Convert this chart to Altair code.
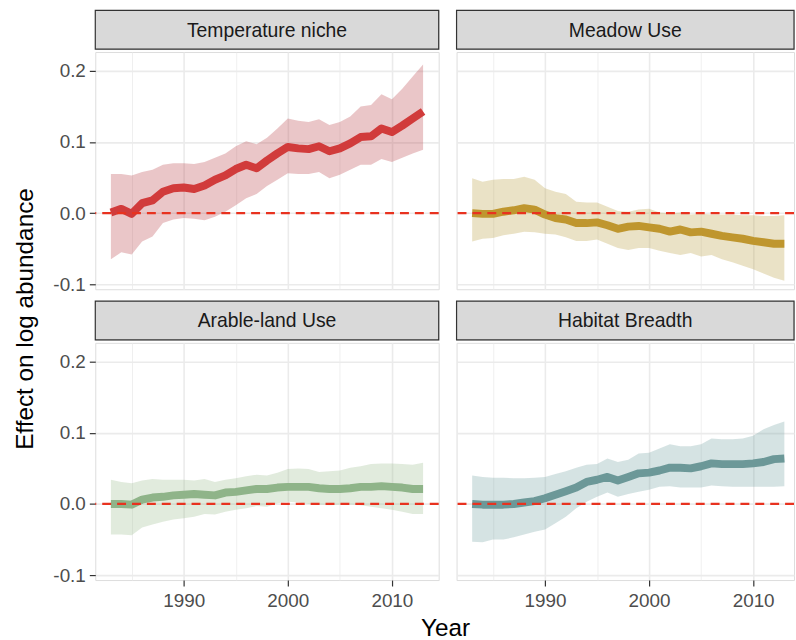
import altair as alt
import pandas as pd

# ---------------- data ----------------
years = list(range(1983, 2014))

panels = ["Temperature niche", "Meadow Use", "Arable-land Use", "Habitat Breadth"]

temp_est = [0.001, 0.006, -0.001, 0.014, 0.018, 0.030, 0.035, 0.036, 0.034, 0.039, 0.047,
            0.053, 0.062, 0.068, 0.063, 0.074, 0.084, 0.093, 0.091, 0.090, 0.094, 0.087,
            0.091, 0.098, 0.107, 0.108, 0.119, 0.114, 0.123, 0.133, 0.143]
temp_hi = [0.055, 0.055, 0.053, 0.058, 0.061, 0.068, 0.070, 0.070, 0.069, 0.072, 0.078,
           0.084, 0.094, 0.101, 0.097, 0.106, 0.119, 0.133, 0.130, 0.128, 0.132, 0.124,
           0.128, 0.136, 0.150, 0.152, 0.167, 0.160, 0.175, 0.192, 0.209]
temp_lo = [-0.065, -0.055, -0.058, -0.040, -0.033, -0.014, -0.009, -0.007, -0.008, -0.010, -0.005,
           0.002, 0.011, 0.021, 0.027, 0.038, 0.047, 0.056, 0.055, 0.055, 0.058, 0.049,
           0.054, 0.061, 0.068, 0.068, 0.076, 0.072, 0.078, 0.084, 0.089]

meadow_est = [0.000, -0.001, -0.001, 0.002, 0.004, 0.007, 0.005, -0.002, -0.007, -0.009, -0.014,
              -0.014, -0.013, -0.017, -0.022, -0.019, -0.018, -0.020, -0.022, -0.026, -0.023, -0.027,
              -0.026, -0.029, -0.032, -0.034, -0.036, -0.039, -0.041, -0.043, -0.043]
meadow_hi = [0.049, 0.044, 0.047, 0.048, 0.048, 0.051, 0.047, 0.035, 0.030, 0.027, 0.016,
             0.015, 0.015, 0.009, 0.003, 0.002, 0.005, 0.006, 0.001, 0.000, 0.001, -0.002,
             -0.001, -0.002, -0.002, -0.002, -0.003, -0.003, -0.004, -0.004, -0.003]
meadow_lo = [-0.040, -0.036, -0.035, -0.031, -0.029, -0.026, -0.027, -0.029, -0.030, -0.034, -0.039,
             -0.039, -0.037, -0.043, -0.049, -0.052, -0.049, -0.049, -0.053, -0.056, -0.059, -0.056,
             -0.061, -0.059, -0.065, -0.069, -0.074, -0.079, -0.085, -0.091, -0.095]

arable_est = [0.000, 0.000, -0.001, 0.006, 0.009, 0.010, 0.012, 0.013, 0.014, 0.013, 0.012,
              0.016, 0.017, 0.019, 0.021, 0.021, 0.023, 0.024, 0.024, 0.024, 0.022, 0.021,
              0.021, 0.022, 0.024, 0.024, 0.025, 0.024, 0.023, 0.021, 0.021]
arable_hi = [0.034, 0.031, 0.029, 0.033, 0.035, 0.034, 0.034, 0.034, 0.033, 0.035, 0.031,
             0.034, 0.036, 0.039, 0.041, 0.040, 0.044, 0.049, 0.050, 0.049, 0.045, 0.046,
             0.047, 0.051, 0.053, 0.056, 0.057, 0.057, 0.056, 0.055, 0.058]
arable_lo = [-0.043, -0.043, -0.044, -0.033, -0.029, -0.025, -0.022, -0.020, -0.018, -0.014, -0.015,
             -0.011, -0.008, -0.006, -0.003, -0.004, 0.001, 0.003, 0.002, 0.000, -0.001, -0.002,
             -0.001, -0.001, -0.002, -0.004, -0.006, -0.008, -0.011, -0.014, -0.014]

habitat_est = [0.000, -0.001, -0.001, -0.001, 0.000, 0.002, 0.004, 0.008, 0.013, 0.018, 0.023,
               0.031, 0.034, 0.038, 0.033, 0.038, 0.043, 0.044, 0.047, 0.051, 0.051, 0.050,
               0.053, 0.057, 0.056, 0.056, 0.056, 0.057, 0.059, 0.063, 0.064]
habitat_hi = [0.040, 0.038, 0.037, 0.037, 0.036, 0.036, 0.037, 0.038, 0.042, 0.046, 0.051,
              0.055, 0.056, 0.064, 0.059, 0.062, 0.071, 0.072, 0.078, 0.084, 0.081, 0.081,
              0.084, 0.092, 0.091, 0.091, 0.092, 0.096, 0.105, 0.111, 0.116]
habitat_lo = [-0.053, -0.054, -0.050, -0.050, -0.047, -0.043, -0.039, -0.036, -0.027, -0.018, -0.006,
              0.003, 0.010, 0.016, 0.010, 0.014, 0.017, 0.020, 0.024, 0.025, 0.023, 0.023,
              0.023, 0.026, 0.025, 0.024, 0.024, 0.024, 0.024, 0.024, 0.025]

ref_line = [0.0]

x_ticks = [1985, 1990, 1995, 2000, 2005, 2010]
y_ticks = [-0.1, -0.05, 0.0, 0.05, 0.1, 0.15, 0.2]

y_title = "Effect on log abundance"
x_title = "Year"

line_colors = ["#d13b3b", "#bf962e", "#8fb489", "#6c9898"]
ribbon_colors = ["#b94148", "#b99e41", "#9bbc8e", "#73a2a2"]

series = [
    (temp_est, temp_lo, temp_hi),
    (meadow_est, meadow_lo, meadow_hi),
    (arable_est, arable_lo, arable_hi),
    (habitat_est, habitat_lo, habitat_hi),
]

# ---------------- layout ----------------
FONT = "Liberation Sans"
W_LEFT = 346
W_RIGHT = 340
H_PANEL = 239
H_STRIP = 39
X_DOMAIN = [1981.5, 2014.5]
Y_DOMAIN = [-0.107, 0.2265]
TICK_FS = 19
STRIP_FS = 19.5
TITLE_FS = 24.5

x_major = "datum.value % 10 == 0"
y_major = "abs(datum.value*10 - round(datum.value*10)) < 0.001"


def x_axis(show):
    kw = dict(values=x_ticks, grid=True, gridColor="#ebebeb",
              gridWidth={"condition": {"test": x_major, "value": 1.6}, "value": 0.8},
              domain=False, title=None, format="d", minExtent=0)
    if show:
        kw.update(labels=True, ticks=True, tickColor="#333333", tickSize=6, tickWidth=1.2,
                  tickOpacity={"condition": {"test": x_major, "value": 1}, "value": 0},
                  labelExpr=x_major + " ? datum.label : ''",
                  labelFont=FONT, labelFontSize=TICK_FS, labelColor="#4d4d4d", labelPadding=6)
    else:
        kw.update(labels=False, ticks=False)
    return alt.Axis(**kw)


def y_axis(show):
    kw = dict(values=y_ticks, grid=True, gridColor="#ebebeb",
              gridWidth={"condition": {"test": y_major, "value": 1.6}, "value": 0.8},
              domain=False, title=None, minExtent=0)
    if show:
        kw.update(labels=True, ticks=True, tickColor="#333333", tickSize=6, tickWidth=1.2,
                  tickOpacity={"condition": {"test": y_major, "value": 1}, "value": 0},
                  labelExpr=y_major + " ? replace(format(datum.value, '.1f'), '\u2212', '-') : ''",
                  labelFont=FONT, labelFontSize=TICK_FS, labelColor="#4d4d4d", labelPadding=4)
    else:
        kw.update(labels=False, ticks=False)
    return alt.Axis(**kw)


def panel(i, show_x, show_y, width):
    est, lo, hi = series[i]
    df = pd.DataFrame({"year": years, "est": est, "lo": lo, "hi": hi})
    if width == W_LEFT:
        xdom = X_DOMAIN
    else:
        xdom = [X_DOMAIN[0], X_DOMAIN[0] + (X_DOMAIN[1] - X_DOMAIN[0]) * width / W_LEFT]
    xs = alt.Scale(domain=xdom, nice=False, zero=False)
    ys = alt.Scale(domain=Y_DOMAIN, nice=False, zero=False)
    base = alt.Chart(df)
    ribbon = base.mark_area(color=ribbon_colors[i], opacity=0.3).encode(
        x=alt.X("year:Q", scale=xs, axis=x_axis(show_x)),
        y=alt.Y("lo:Q", scale=ys, axis=y_axis(show_y)),
        y2="hi:Q",
    )
    line = base.mark_line(color=line_colors[i], strokeWidth=8, strokeCap="butt",
                          strokeJoin="round").encode(
        x=alt.X("year:Q", scale=xs),
        y=alt.Y("est:Q", scale=ys),
    )
    rule = alt.Chart(pd.DataFrame({"y": ref_line})).mark_rule(
        color="#e8321f", strokeWidth=2.2, strokeDash=[9, 6]
    ).encode(y=alt.Y("y:Q", scale=ys))
    return alt.layer(ribbon, line, rule).properties(width=width, height=H_PANEL)


def strip(i, width):
    df = pd.DataFrame({"label": [panels[i]]})
    base = alt.Chart(df)
    rect = base.mark_rect(fill="#d9d9d9", stroke="#333333", strokeWidth=1.2).encode(
        x=alt.value(0), x2=alt.value(width), y=alt.value(0), y2=alt.value(H_STRIP)
    )
    txt = base.mark_text(font=FONT, fontSize=STRIP_FS, color="#1a1a1a",
                         baseline="middle", align="center").encode(
        x=alt.value(width / 2), y=alt.value(H_STRIP / 2 + 1), text="label:N"
    )
    return alt.layer(rect, txt).properties(width=width, height=H_STRIP)


def cell(i, show_x, show_y, width):
    return alt.vconcat(strip(i, width), panel(i, show_x, show_y, width), spacing=0)


row1 = alt.hconcat(cell(0, False, True, W_LEFT), cell(1, False, False, W_RIGHT), spacing=14)
row2 = alt.hconcat(cell(2, True, True, W_LEFT), cell(3, True, False, W_RIGHT), spacing=14)
grid = alt.vconcat(row1, row2, spacing=4)

ytitle = alt.Chart(pd.DataFrame({"t": [y_title]})).mark_text(
    font=FONT, fontSize=TITLE_FS, color="black", angle=270, align="center",
    baseline="alphabetic"
).encode(x=alt.value(33), y=alt.value(311), text="t:N").properties(
    width=45, height=560, view=alt.ViewBackground(strokeOpacity=0)
)

xtitle = alt.Chart(pd.DataFrame({"t": [x_title]})).mark_text(
    font=FONT, fontSize=TITLE_FS, color="black", align="center", baseline="alphabetic"
).encode(x=alt.value(449), y=alt.value(24), text="t:N").properties(
    width=790, height=26, view=alt.ViewBackground(strokeOpacity=0)
)

top = alt.hconcat(ytitle, grid, spacing=7)
chart = alt.vconcat(top, xtitle, spacing=0).properties(
    padding={"left": 0, "top": 6, "right": 0, "bottom": 0}
).configure_view(stroke="#333333", strokeWidth=1.2).configure(
    font=FONT, background="white"
)

chart.save("out.html", embed_options={"renderer": "svg", "actions": False})
